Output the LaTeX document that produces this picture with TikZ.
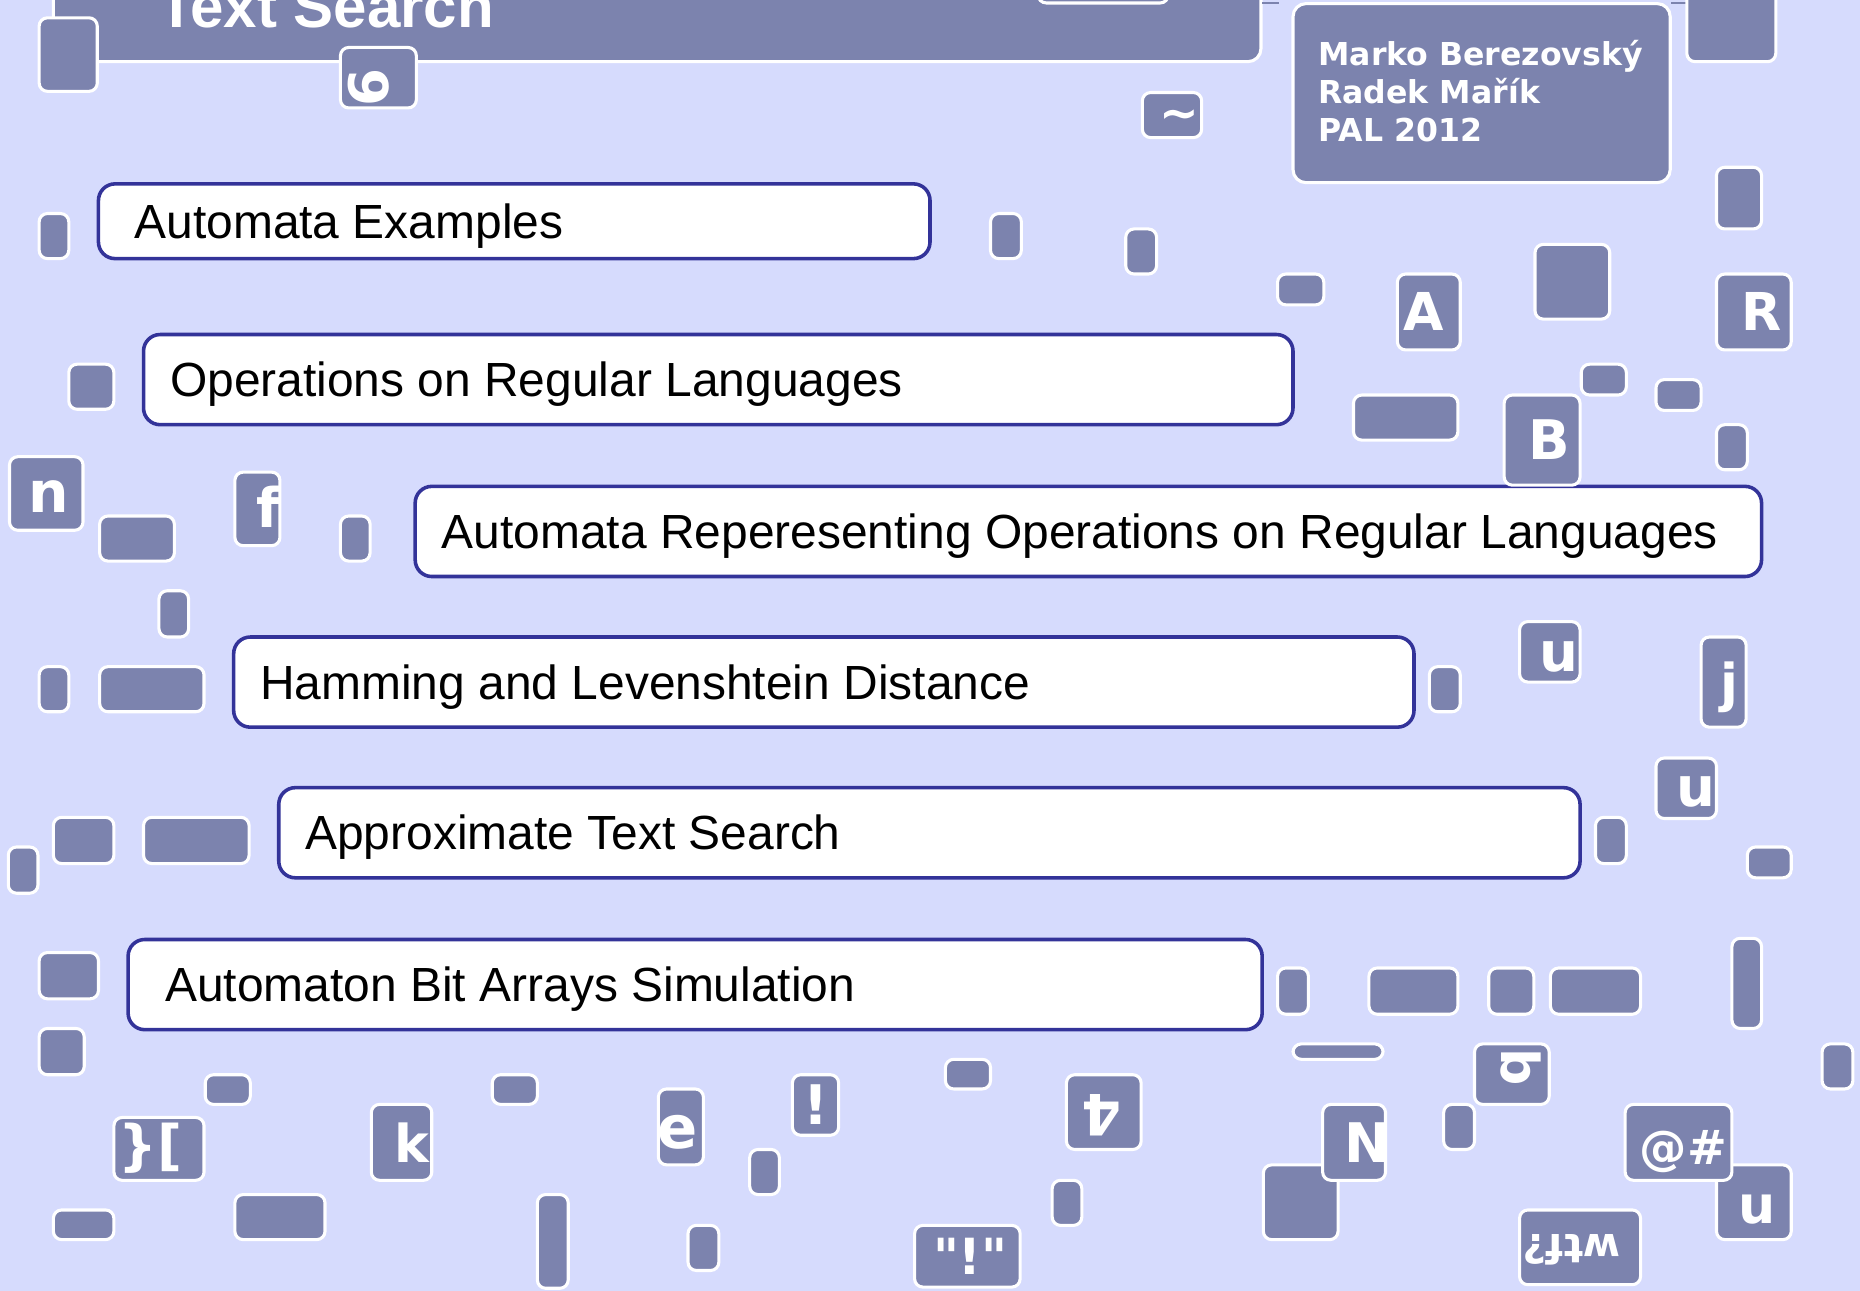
\documentclass[tikz,border=0pt]{standalone}
\usepackage{fontspec}
\setmainfont{Liberation Sans}
\newfontfamily\glyphfam{DejaVu Sans}
\usetikzlibrary{fit}

\definecolor{bgblue}{RGB}{214,219,253}
\definecolor{tilefill}{RGB}{124,131,174}
\definecolor{topicblue}{RGB}{51,51,153}

\tikzset{
  tile/.style={fill=tilefill, draw=white, line width=1.3pt, rounded corners=3.5pt,
               inner sep=0pt, outer sep=0pt},
  bigtile/.style={tile, rounded corners=5.5pt},
  topic/.style={fill=white, draw=topicblue, line width=1.5pt, rounded corners=7pt,
                inner sep=0pt, outer sep=0pt},
  topictext/.style={anchor=base west, inner sep=0pt, text=black,
                    font=\fontsize{20.2}{24}\selectfont},
  titletext/.style={anchor=base west, inner sep=0pt, text=white,
                    font=\bfseries\fontsize{25.3}{30}\selectfont},
  authortext/.style={anchor=base west, inner sep=0pt, text=white,
                     font=\glyphfam\bfseries\fontsize{13.3}{16}\selectfont},
  glyph/.style={text=white, inner sep=0pt, outer sep=0pt},
  gs/.style={font=\glyphfam\bfseries\fontsize{#1}{#1}\selectfont},
}

% a plain tile: name, corners (x1,y1) (x2,y2)
\newcommand\plaintile[5]{\node (#1) [tile, fit={(#2,#3) (#4,#5)}] {};}
% a tile with a white glyph clipped to its inside
\newcommand\glyphtile[8]{%
  \node (#1) [tile, fit={(#2,#3) (#4,#5)}] {};
  \begin{scope}
    \clip[rounded corners=3pt] ([shift={(0.65pt,0.65pt)}]#1.south west)
          rectangle ([shift={(-0.65pt,-0.65pt)}]#1.north east);
    \node (#1-t) [glyph, #6] at (#7) {#8};
  \end{scope}}

\begin{document}
\begin{tikzpicture}[x=0.5pt,y=-0.5pt]
\useasboundingbox (0,0) rectangle (1568,1088);
\clip (0,0) rectangle (1568,1088);
\fill[bgblue] (0,0) rectangle (1568,1088);

% header bar with the title
\node (titlebar) [bigtile, fit={(45,-40) (1063,52)}] {};
\node (title) [titletext] at (133,23) {Text Search};
\plaintile{ptop}{875}{-30}{985}{2.5}

% thin edges peeking out at the top
\draw[tilefill, line width=0.6pt] (1064,2.5) -- (1078,2.5);
\draw[tilefill, line width=0.6pt] (1409,2.5) -- (1422,2.5);

% authors
\node (authors) [bigtile, fit={(1090,3) (1408,154)}] {};
\node (auth1) [authortext] at (1111,55) {Marko Berezovský};
\node (auth2) [authortext] at (1111,87.5) {Radek Mařík};
\node (auth3) [authortext] at (1111,119.5) {PAL 2012};

% topic boxes
\node (topic1) [topic, fit={(83,155) (784,218)}] {};
\node (topic1-text) [topictext] at (113,201) {Automata Examples};
\node (topic2) [topic, fit={(121,282) (1090,358)}] {};
\node (topic2-text) [topictext] at (143,334.5) {Operations on Regular Languages};
\node (topic3) [topic, fit={(350,410) (1485,486)}] {};
\node (topic3-text) [topictext] at (372,462.5) {Automata Reperesenting Operations on Regular Languages};
\node (topic4) [topic, fit={(197,537) (1192,613)}] {};
\node (topic4-text) [topictext] at (219,589.5) {Hamming and Levenshtein Distance};
\node (topic5) [topic, fit={(235,664) (1332,740)}] {};
\node (topic5-text) [topictext] at (257,716.5) {Approximate Text Search};
\node (topic6) [topic, fit={(108,792) (1064,868)}] {};
\node (topic6-text) [topictext] at (139,844.5) {Automaton Bit Arrays Simulation};

% scattered plain tiles
\plaintile{p1}{33}{15}{82}{77}
\plaintile{ptr}{1422}{-40}{1497}{52}
\plaintile{p2}{1447}{141}{1485}{193}
\plaintile{p3}{33}{180}{58}{218}
\plaintile{p4}{835}{180}{861}{218}
\plaintile{p5}{949}{193}{975}{231}
\plaintile{p6}{1077}{231}{1116}{257}
\plaintile{p7}{1294}{206}{1357}{269}
\plaintile{p8}{58}{307}{96}{345}
\plaintile{p9}{1141}{333}{1229}{371}
\plaintile{p10}{1333}{307}{1371}{333}
\plaintile{p11}{1396}{320}{1434}{346}
\plaintile{p12}{1447}{358}{1473}{396}
\plaintile{p13}{84}{435}{147}{473}
\plaintile{p14}{287}{435}{312}{473}
\plaintile{p15}{134}{498}{159}{537}
\plaintile{p16}{33}{562}{58}{600}
\plaintile{p17}{84}{562}{172}{600}
\plaintile{p18}{1205}{562}{1231}{600}
\plaintile{p19}{1345}{689}{1371}{728}
\plaintile{p20}{1473}{714}{1510}{740}
\plaintile{p21}{45}{689}{96}{728}
\plaintile{p22}{121}{689}{210}{728}
\plaintile{p23}{7}{714}{32}{753}
\plaintile{p24}{33}{803}{83}{842}
\plaintile{p25}{1077}{816}{1103}{855}
\plaintile{p26}{1154}{816}{1229}{855}
\plaintile{p27}{1255}{816}{1293}{855}
\plaintile{p28}{1307}{816}{1383}{855}
\plaintile{p29}{1460}{791}{1485}{867}
\plaintile{p30}{33}{867}{71}{906}
\plaintile{p31}{1090}{880}{1166}{893}
\plaintile{p32}{1536}{880}{1562}{918}
\plaintile{p33}{173}{906}{211}{931}
\plaintile{p34}{415}{906}{453}{931}
\plaintile{p35}{797}{893}{835}{918}
\plaintile{p36}{632}{969}{657}{1007}
\plaintile{p37}{45}{1020}{96}{1045}
\plaintile{p38}{198}{1007}{274}{1045}
\plaintile{p39}{453}{1007}{479}{1086}
\plaintile{p40}{580}{1033}{606}{1071}
\plaintile{p41}{887}{995}{912}{1033}
\plaintile{p42}{1065}{982}{1128}{1045}
\plaintile{p43}{1217}{931}{1243}{969}

% tiles carrying characters
\glyphtile{g6}{287}{40}{351}{91}{gs=23, rotate=90}{311,74}{6}
\glyphtile{gtilde}{963}{78}{1013}{116}{gs=20, anchor=base}{994,109}{\textasciitilde}
\glyphtile{gA}{1178}{231}{1231}{295}{gs=22, anchor=base}{1200,279}{A}
\glyphtile{gR}{1447}{231}{1510}{295}{gs=22, anchor=base}{1485,279}{R}
\glyphtile{gB}{1268}{333}{1332}{409}{gs=23, anchor=base}{1306,387}{B}
\glyphtile{gn}{8}{385}{70}{447}{gs=24, anchor=base}{41,432}{n}
\glyphtile{gf}{198}{398}{236}{460}{gs=23, anchor=base}{226,445}{f}
\glyphtile{gu1}{1281}{524}{1332}{575}{gs=23, anchor=base}{1314,566}{u}
\glyphtile{gj}{1434}{537}{1472}{613}{gs=22, anchor=base}{1458,591}{j}
\glyphtile{gu2}{1396}{639}{1447}{690}{gs=23, anchor=base}{1430,680}{u}
\glyphtile{gb}{1243}{880}{1306}{931}{gs=22, rotate=-90}{1282,900}{b}
\glyphtile{gbr}{96}{942}{172}{995}{gs=23}{127,968}{\}[}
\glyphtile{gk}{313}{931}{364}{995}{gs=22, anchor=base}{347,980}{k}
\glyphtile{ge}{555}{918}{593}{982}{gs=25, anchor=base}{571,968}{e}
\glyphtile{gex}{668}{906}{707}{957}{gs=23, anchor=base}{688,948}{!}
\glyphtile{g4}{899}{906}{962}{969}{gs=24, rotate=180}{929,940}{4}
\glyphtile{gN}{1115}{931}{1168}{995}{gs=23, anchor=base}{1153,980}{N}
\glyphtile{gu3}{1447}{982}{1510}{1045}{gs=22, anchor=base}{1481,1031}{u}
\glyphtile{gat}{1370}{931}{1460}{995}{gs=20, anchor=base}{1419,982}{@\#}
\glyphtile{gwtf}{1281}{1020}{1383}{1083}{gs=17, rotate=180}{1325,1054}{wtf?}
\glyphtile{gq}{771}{1033}{860}{1085}{gs=21, anchor=base}{818,1074}{"!"}
\end{tikzpicture}
\end{document}
